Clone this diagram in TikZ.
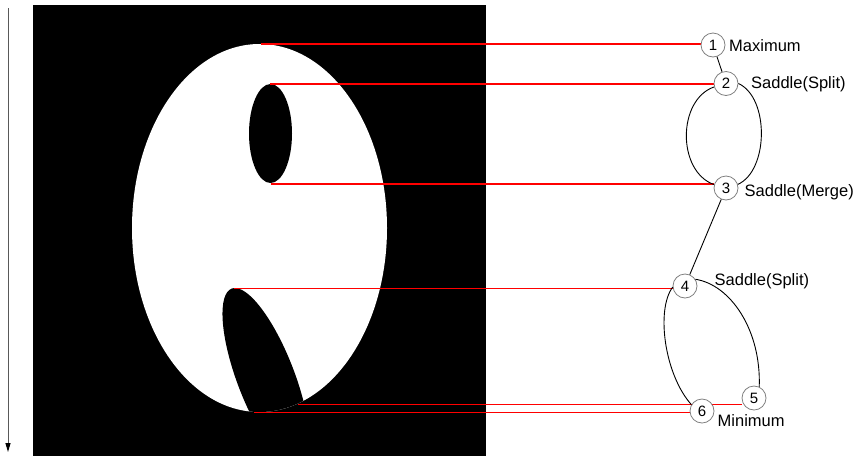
\documentclass[tikz,border=0pt]{standalone}
\usepackage{fontspec}
\setmainfont{Liberation Sans}
\usetikzlibrary{arrows.meta,backgrounds}
\begin{document}
\begin{tikzpicture}[x=1pt,y=-1pt,
  crit/.style={circle,draw=gray,fill=white,line width=0.8pt,minimum size=24pt,inner sep=0pt,font=\fontsize{15}{15}\selectfont},
  lbl/.style={anchor=base west,inner sep=0pt,font=\fontsize{16.5}{16.5}\selectfont},
  link/.style={red,line width=1.2pt},
  arcline/.style={black,line width=0.9pt}]
\useasboundingbox (0,0) rectangle (859,456);
% critical points
\node[crit] (n1) at (713,45) {1};
\node[crit] (n2) at (726,83.5) {2};
\node[crit] (n3) at (726,188) {3};
\node[crit] (n4) at (685,286) {4};
\node[crit] (n5) at (754,398) {5};
\node[crit] (n6) at (702,411) {6};
% labels
\node[lbl] (l1) at (729,51) {Maximum};
\node[lbl] (l2) at (751,88) {Saddle(Split)};
\node[lbl] (l3) at (744.5,196) {Saddle(Merge)};
\node[lbl] (l4) at (714.5,285) {Saddle(Split)};
\node[lbl] (l5) at (717.5,426) {Minimum};
% points on the shape
\coordinate (p1) at (261,44);
\coordinate (p2) at (270,84);
\coordinate (p3) at (271,184);
\coordinate (p4) at (234,288.5);
\coordinate (p5) at (298,404.3);
\coordinate (p6) at (254,412.5);
\begin{pgfonlayer}{background}
  \fill[black] (33,5) rectangle (486,456);
  \fill[white] (259.5,228) ellipse [x radius=127.5, y radius=184];
  \begin{scope}
    \clip (259.5,228) ellipse [x radius=127.5, y radius=184];
    \fill[black] (270.5,133.5) ellipse [x radius=21.5, y radius=49.5];
    \fill[black, shift={(266,378)}, xslant=-0.345] (0,0) ellipse [x radius=30.5, y radius=90];
  \end{scope}
  \draw[link] (p1) -- (p1 -| n1.west);
  \draw[link] (p2) -- (p2 -| n2.west);
  \draw[link] (p3) -- (p3 -| n3.west);
  \draw[link] (p4) -- (p4 -| n4.west);
  \draw[link] (p5) -- (p5 -| n5.west);
  \draw[link] (p6) -- (p6 -| n6.west);
\end{pgfonlayer}
% tree arcs
\draw[arcline] (n1) -- (n2);
\draw[arcline] (n2.196) .. controls +(-37,13) and +(-37,-13) .. (n3.164);
\draw[arcline] (n2.east) .. controls +(31,14) and +(31,-14) .. (n3.17);
\draw[arcline] (n3) -- (n4);
\draw[arcline] (n4.185) .. controls +(-17,23) and +(-26.7,-29.8) .. (n6.149);
\draw[arcline] (n4.33) .. controls +(35,5.5) and +(2,-57) .. (n5.65);
% time arrow
\coordinate (a0) at (8,8);
\coordinate (a1) at (8,452);
\draw[gray!70!black, line width=1pt, -{Triangle[length=9pt,width=5pt,color=black]}] (a0) -- (a1);
\end{tikzpicture}
\end{document}
